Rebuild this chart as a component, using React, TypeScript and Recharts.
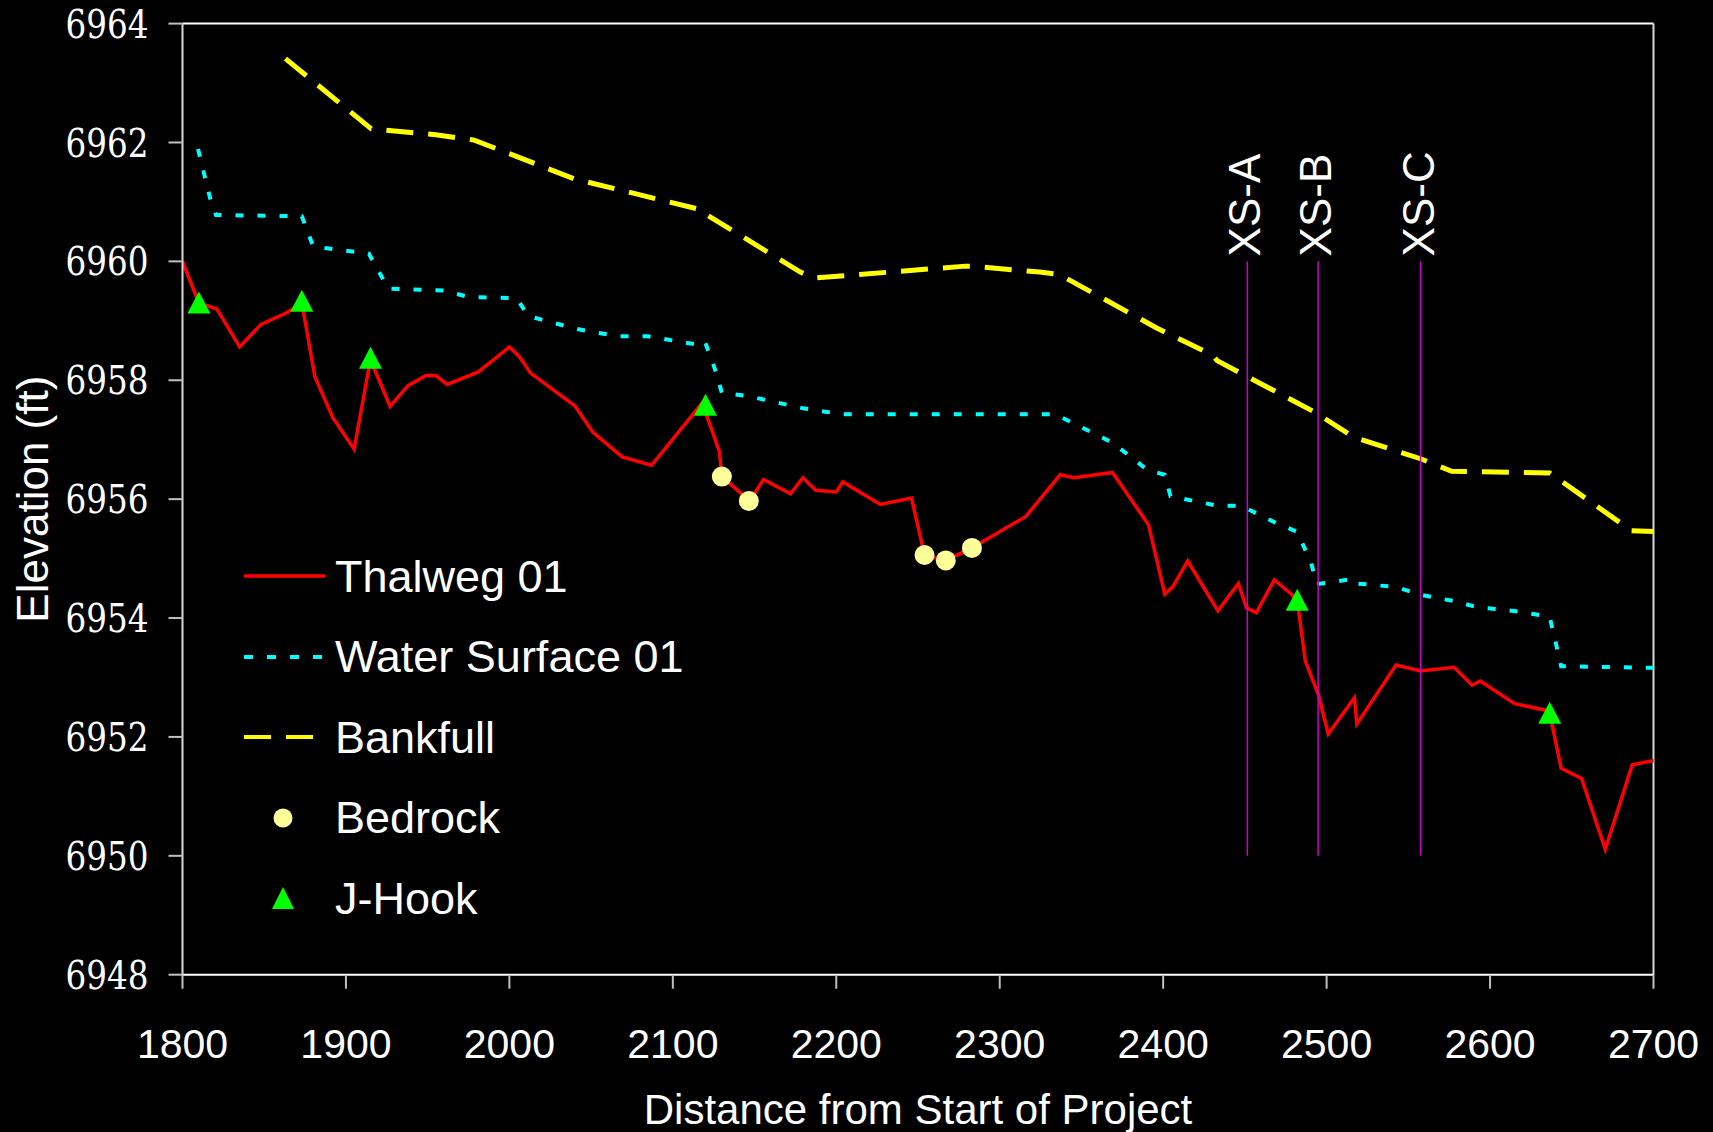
import React from "react";
import {
  ComposedChart,
  Legend,
  Line,
  ReferenceLine,
  Scatter,
  XAxis,
  YAxis,
} from "recharts";

const xTicks = [1800, 1900, 2000, 2100, 2200, 2300, 2400, 2500, 2600, 2700];
const yTicks = [6948, 6950, 6952, 6954, 6956, 6958, 6960, 6962, 6964];

// [distance, elevation]
const thalweg: [number, number][] = [
  [1800, 6960.0], [1810, 6959.3], [1821, 6959.2], [1835, 6958.56], [1848, 6958.94],
  [1864, 6959.14], [1873, 6959.3], [1881, 6958.06], [1892, 6957.37], [1905, 6956.84],
  [1915, 6958.35], [1927, 6957.56], [1938, 6957.91], [1949, 6958.08], [1955, 6958.08],
  [1962, 6957.93], [1981, 6958.14], [2000, 6958.56], [2006, 6958.4], [2013, 6958.12],
  [2040, 6957.57], [2051, 6957.13], [2069, 6956.71], [2087, 6956.57], [2118, 6957.62],
  [2128.5, 6956.8], [2130, 6956.38], [2147, 6955.97], [2155.5, 6956.33], [2172, 6956.09],
  [2179.5, 6956.36], [2187.5, 6956.15], [2200, 6956.12], [2204, 6956.29], [2227, 6955.91],
  [2246, 6956.02], [2254, 6955.06], [2267, 6954.97], [2283, 6955.18], [2316, 6955.71],
  [2337, 6956.41], [2345.5, 6956.36], [2369, 6956.45], [2391, 6955.57], [2401, 6954.4],
  [2406, 6954.53], [2415, 6954.96], [2433.5, 6954.12], [2446, 6954.58], [2451, 6954.17],
  [2457, 6954.09], [2468, 6954.64], [2478.5, 6954.4], [2482, 6954.3], [2487, 6953.27],
  [2495, 6952.71], [2501, 6952.05], [2517, 6952.66], [2518.5, 6952.22], [2542.5, 6953.21],
  [2557.5, 6953.11], [2578, 6953.17], [2589, 6952.87], [2594, 6952.94], [2615, 6952.56],
  [2634, 6952.45], [2636.5, 6952.4], [2643.5, 6951.47], [2656, 6951.3], [2670.5, 6950.11],
  [2687, 6951.53], [2707, 6951.64],
];

const waterSurface: [number, number][] = [
  [1809.5, 6961.89], [1818, 6960.94], [1820.5, 6960.78], [1873, 6960.76], [1880, 6960.25],
  [1914, 6960.13], [1926, 6959.54], [1960, 6959.51], [1975, 6959.4], [2004.5, 6959.38],
  [2011.5, 6959.08], [2040, 6958.87], [2051, 6958.81], [2068, 6958.74], [2084.5, 6958.74],
  [2115, 6958.6], [2119.5, 6958.66], [2125.5, 6958.21], [2130, 6957.79], [2146.5, 6957.73],
  [2179.5, 6957.53], [2203, 6957.43], [2334, 6957.43], [2337.5, 6957.38], [2369, 6956.95],
  [2390, 6956.5], [2401, 6956.41], [2404.5, 6956.05], [2433, 6955.89], [2447.5, 6955.89],
  [2469, 6955.6], [2482, 6955.45], [2490.5, 6954.93], [2494, 6954.57], [2517, 6954.66],
  [2519, 6954.58], [2543, 6954.52], [2557.5, 6954.39], [2579, 6954.28], [2591, 6954.19],
  [2597, 6954.17], [2617, 6954.11], [2636.5, 6954.02], [2643.5, 6953.19], [2704, 6953.16],
];

const bankfull: [number, number][] = [
  [1863, 6963.41], [1915.5, 6962.23], [1955, 6962.13], [1978.5, 6962.04], [2039.5, 6961.39],
  [2118.5, 6960.86], [2121, 6960.78], [2178, 6959.82], [2186.5, 6959.72], [2279, 6959.92],
  [2282.5, 6959.92], [2324.5, 6959.82], [2336.5, 6959.78], [2396, 6958.88], [2430.5, 6958.42],
  [2433, 6958.33], [2493, 6957.46], [2514.5, 6957.08], [2518, 6957.03], [2557.5, 6956.68],
  [2576.5, 6956.47], [2636.5, 6956.44], [2686.5, 6955.47], [2705, 6955.45],
];

const bedrock: [number, number][] = [
  [2130, 6956.38], [2146.5, 6955.97], [2254, 6955.06], [2267, 6954.97], [2283, 6955.18],
];

const jHook: [number, number][] = [
  [1810, 6959.3], [1873, 6959.33], [1915, 6958.37], [2120, 6957.58], [2482, 6954.3], [2636.5, 6952.4],
];

const crossSections = [
  { name: "XS-A", x: 2451.5 },
  { name: "XS-B", x: 2494.8 },
  { name: "XS-C", x: 2557.5 },
];
const xsTop = 6960;
const xsBottom = 6950;

const toPoints = (pairs: [number, number][]) => pairs.map(([x, y]) => ({ x, y }));

const SANS = "Liberation Sans, Arial, sans-serif";
const SERIF = "DejaVu Serif, serif";

const legendItems = [
  { name: "Thalweg 01", kind: "line", color: "#ff0000", width: 3.5, dash: undefined },
  { name: "Water Surface 01", kind: "line", color: "#00ffff", width: 4, dash: "9 14" },
  { name: "Bankfull", kind: "line", color: "#ffff00", width: 4, dash: "27 15" },
  { name: "Bedrock", kind: "circle", color: "#ffff99" },
  { name: "J-Hook", kind: "triangle", color: "#00ff00" },
];

function TriangleMark({ cx, cy }: any) {
  if (cx == null || cy == null) return null;
  return (
    <polygon
      points={`${cx},${cy - 11.5} ${cx - 11.5},${cy + 10.5} ${cx + 11.5},${cy + 10.5}`}
      fill="#00ff00"
    />
  );
}

function BedrockMark({ cx, cy }: any) {
  if (cx == null || cy == null) return null;
  return <circle cx={cx} cy={cy} r={10} fill="#ffff99" />;
}

function XsLabel({ cx, cy, payload }: any) {
  if (cx == null || cy == null) return null;
  const tx = cx + 13;
  const ty = cy - 5;
  return (
    <text
      x={tx}
      y={ty}
      transform={`rotate(-90 ${tx} ${ty})`}
      fill="#ffffff"
      fontSize={44}
      fontFamily={SANS}
    >
      {payload.name}
    </text>
  );
}

function ElevationTick({ x, y, payload }: any) {
  return (
    <text
      x={x}
      y={y}
      dy="0.36em"
      textAnchor="end"
      fill="#ffffff"
      fontFamily={SERIF}
      fontSize={39}
      fontWeight={300}
      textLength={83}
      lengthAdjust="spacingAndGlyphs"
    >
      {payload.value}
    </text>
  );
}

function ChartLegend() {
  return (
    <div style={{ width: 500 }}>
      {legendItems.map((item) => (
        <div key={item.name} style={{ display: "flex", alignItems: "center", height: 80.5 }}>
          <svg width={95} height={40} style={{ display: "block" }}>
            {item.kind === "line" && (
              <line
                x1={4}
                x2={85}
                y1={20}
                y2={20}
                stroke={item.color}
                strokeWidth={item.width}
                strokeDasharray={item.dash}
              />
            )}
            {item.kind === "circle" && <circle cx={43} cy={20} r={9.5} fill={item.color} />}
            {item.kind === "triangle" && (
              <polygon points="43,9 32,31 54,31" fill={item.color} />
            )}
          </svg>
          <span
            style={{
              color: "#ffffff",
              fontFamily: SANS,
              fontSize: 45,
              lineHeight: 1,
              whiteSpace: "nowrap",
            }}
          >
            {item.name}
          </span>
        </div>
      ))}
    </div>
  );
}

export default function App() {
  const xsLabels = crossSections.map((c) => ({ x: c.x, y: xsTop, name: c.name }));

  return (
    <div
      style={{
        position: "fixed",
        left: 0,
        top: 0,
        width: 1713,
        height: 1132,
        background: "#000000",
      }}
    >
      <ComposedChart
        width={1713}
        height={1132}
        margin={{ top: 23.6, right: 59.5, bottom: 0, left: 0 }}
      >
        <XAxis
          type="number"
          dataKey="x"
          domain={[1800, 2700]}
          ticks={xTicks}
          allowDataOverflow
          height={157.3}
          tickSize={14}
          tickMargin={40}
          axisLine={{ stroke: "#ffffff", strokeWidth: 2 }}
          tickLine={{ stroke: "#c0c0c0", strokeWidth: 2 }}
          tick={{ fill: "#ffffff", fontSize: 41, fontFamily: SANS }}
          label={{
            value: "Distance from Start of Project",
            position: "insideBottom",
            offset: 8,
            fill: "#ffffff",
            fontSize: 42,
            fontFamily: SANS,
          }}
        />
        <YAxis
          type="number"
          dataKey="y"
          domain={[6948, 6964]}
          ticks={yTicks}
          allowDataOverflow
          width={182.5}
          tickSize={14}
          tickMargin={20}
          axisLine={{ stroke: "#d9d9d9", strokeWidth: 2 }}
          tickLine={{ stroke: "#c0c0c0", strokeWidth: 2 }}
          tick={(props: any) => <ElevationTick {...props} />}
          label={{
            value: "Elevation (ft)",
            angle: -90,
            position: "insideLeft",
            offset: 32,
            fill: "#ffffff",
            fontSize: 44,
            fontFamily: SANS,
            style: { textAnchor: "middle" },
          }}
        />
        <ReferenceLine y={6964} stroke="#ffffff" strokeWidth={2} />
        <ReferenceLine x={2700} stroke="#d9d9d9" strokeWidth={2} />

        <Line
          data={toPoints(thalweg)}
          dataKey="y"
          name="Thalweg 01"
          stroke="#ff0000"
          strokeWidth={3.5}
          dot={false}
          activeDot={false}
          isAnimationActive={false}
        />
        <Line
          data={toPoints(waterSurface)}
          dataKey="y"
          name="Water Surface 01"
          stroke="#00ffff"
          strokeWidth={4}
          strokeDasharray="8 14"
          dot={false}
          activeDot={false}
          isAnimationActive={false}
        />
        <Line
          data={toPoints(bankfull)}
          dataKey="y"
          name="Bankfull"
          stroke="#ffff00"
          strokeWidth={5}
          strokeDasharray="27 15"
          dot={false}
          activeDot={false}
          isAnimationActive={false}
        />

        {crossSections.map((c) => (
          <ReferenceLine
            key={c.name}
            segment={[
              { x: c.x, y: xsBottom },
              { x: c.x, y: xsTop },
            ]}
            stroke="#cc00cc"
            strokeWidth={1.5}
          />
        ))}

        <Scatter
          data={toPoints(bedrock)}
          dataKey="y"
          name="Bedrock"
          shape={(props: any) => <BedrockMark {...props} />}
          isAnimationActive={false}
        />
        <Scatter
          data={toPoints(jHook)}
          dataKey="y"
          name="J-Hook"
          shape={(props: any) => <TriangleMark {...props} />}
          isAnimationActive={false}
        />
        <Scatter
          data={xsLabels}
          dataKey="y"
          name="XS labels"
          legendType="none"
          shape={(props: any) => <XsLabel {...props} />}
          isAnimationActive={false}
        />

        <Legend
          layout="vertical"
          align="center"
          verticalAlign="middle"
          content={() => <ChartLegend />}
          wrapperStyle={{ left: 240, top: 536, width: 500, height: 405 }}
        />
      </ComposedChart>
    </div>
  );
}
